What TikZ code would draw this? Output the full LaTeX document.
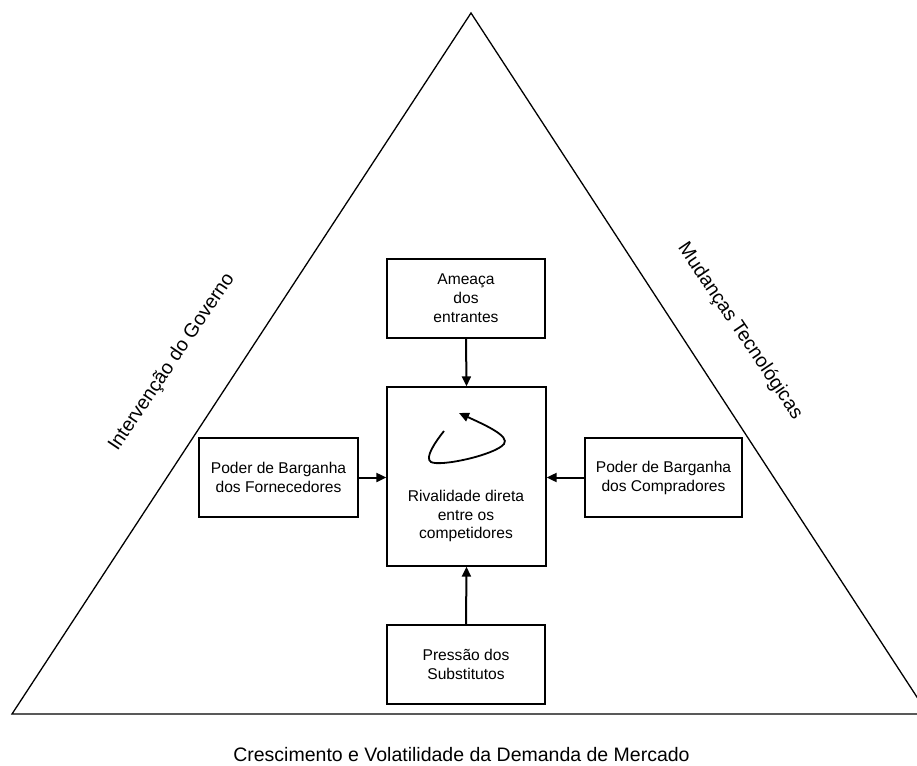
\documentclass[tikz,border=0pt]{standalone}
\usepackage{fontspec}
\setmainfont{Liberation Sans}
\usetikzlibrary{arrows.meta}
\begin{document}
\begin{tikzpicture}[x=1pt,y=-1pt,
  box/.style={draw,line width=1.3pt,inner sep=0pt,align=center,
    font=\fontsize{15.6}{19}\selectfont},
  conn/.style={line width=2pt,-{Triangle[length=10pt,width=9pt]}},
  lbl/.style={inner sep=0pt,font=\fontsize{19.5}{23}\selectfont}]
\clip (0,0) rectangle (917,765);
\fill[white] (0,0) rectangle (917,765);
% triangle
\coordinate (apex) at (471,13);
\coordinate (bl) at (12,714);
\coordinate (br) at (928,714);
\draw[line width=1.3pt,line join=miter] (bl) -- (apex) -- (br) -- cycle;
% boxes
\node[box,minimum width=158pt,minimum height=79pt] (top) at (466,298.5) {Ameaça\\dos\\entrantes};
\node[box,minimum width=159pt,minimum height=179pt] (rival) at (466.5,476.5) {};
\node[inner sep=0pt,align=center,font=\fontsize{15.6}{18.5}\selectfont] (rivaltxt) at (466,516) {Rivalidade direta\\entre os\\competidores};
\node[box,minimum width=159pt,minimum height=79pt] (left) at (278.5,477.5) {Poder de Barganha\\dos Fornecedores};
\node[box,minimum width=157pt,minimum height=79pt] (right) at (663.5,477.5) {Poder de Barganha\\dos Compradores};
\node[box,minimum width=158pt,minimum height=79pt] (bottom) at (466,664.5) {Pressão dos\\ Substitutos};
% connectors
\draw[conn] (top.south) -- (rival.north);
\draw[conn] (bottom.north) -- (rival.south);
\draw[conn] (left.east) -- (left.east -| rival.west);
\draw[conn] (right.west) -- (right.west -| rival.east);
% curl
\coordinate (c0) at (444,431);
\coordinate (c1) at (431,462);
\coordinate (c2) at (504,444);
\coordinate (c3) at (459,413);
\draw[line width=1.8pt,-{Triangle[length=10pt,width=9pt]}]
  (c0) .. controls (436,441) and (424,458) .. (c1)
       .. controls (440,467) and (495,455) .. (c2)
       .. controls (510,436) and (485,425) .. (c3);
% labels
\node[lbl,rotate=56] (gov) at (172,362) {Intervenção do Governo};
\node[lbl,rotate=-56] (tec) at (740,331) {Mudanças Tecnológicas};
\node[lbl,anchor=base] (dem) at (461.5,761) {Crescimento e Volatilidade da Demanda de Mercado};
\end{tikzpicture}
\end{document}
